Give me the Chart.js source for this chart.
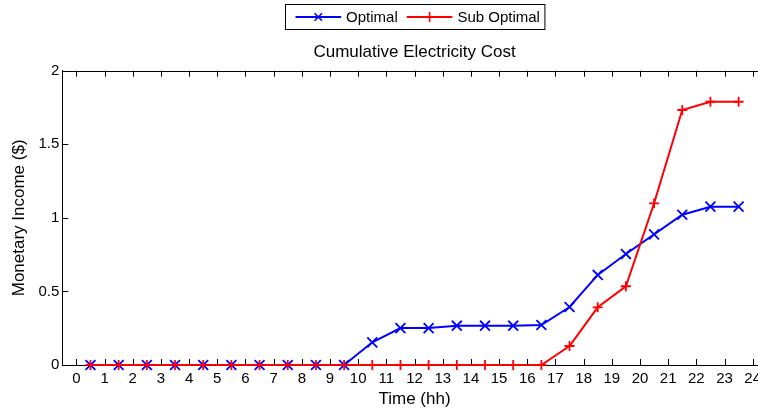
<!DOCTYPE html>
<html>
<head>
<meta charset="utf-8">
<script src="https://cdn.jsdelivr.net/npm/chart.js@4"></script>
<style>
html, body { margin: 0; padding: 0; overflow: hidden; background: #fff; }
canvas { display: block; }
</style>
</head>
<body>
<canvas id="c" width="780" height="413"></canvas>
<script>
// Hour-of-day sample points (middle of each hour)
const hours = [0.5, 1.5, 2.5, 3.5, 4.5, 5.5, 6.5, 7.5, 8.5, 9.5, 10.5, 11.5,
               12.5, 13.5, 14.5, 15.5, 16.5, 17.5, 18.5, 19.5, 20.5, 21.5, 22.5, 23.5];

// Cumulative cost, optimal schedule ($)
const optimal = [0, 0, 0, 0, 0, 0, 0, 0, 0, 0, 0.154, 0.251,
                 0.251, 0.267, 0.267, 0.267, 0.272, 0.394, 0.612, 0.754, 0.888, 1.021, 1.076, 1.076];

// Cumulative cost, sub-optimal schedule ($)
const subOptimal = [0, 0, 0, 0, 0, 0, 0, 0, 0, 0, 0, 0,
                    0, 0, 0, 0, 0, 0.129, 0.392, 0.535, 1.099, 1.733, 1.789, 1.789];

// Axis tick values
const xTickValues = [0, 1, 2, 3, 4, 5, 6, 7, 8, 9, 10, 11, 12, 13, 14, 15, 16, 17, 18, 19, 20, 21, 22, 23, 24];
const yTickValues = [0, 0.5, 1, 1.5, 2];

const FONT = '"Liberation Sans", Arial, Helvetica, sans-serif';

// Box-style axes: top border plus inward tick marks, and a boxed legend
const boxAxes = {
  id: 'boxAxes',
  afterDatasetsDraw(chart) {
    const { ctx, chartArea: a, scales } = chart;
    const len = 6;
    ctx.save();
    ctx.strokeStyle = '#000';
    ctx.lineWidth = 1;
    ctx.beginPath();
    const top = Math.round(a.top) + 0.5;
    ctx.moveTo(a.left, top);
    ctx.lineTo(a.right + 20, top);
    xTickValues.forEach(v => {
      const px = Math.round(scales.x.getPixelForValue(v)) + 0.5;
      ctx.moveTo(px, a.bottom);
      ctx.lineTo(px, a.bottom - len);
      ctx.moveTo(px, a.top);
      ctx.lineTo(px, a.top + len);
    });
    yTickValues.forEach(v => {
      const py = Math.round(scales.y.getPixelForValue(v)) + 0.5;
      ctx.moveTo(a.left, py);
      ctx.lineTo(a.left + len, py);
    });
    ctx.stroke();
    ctx.restore();
  },
  afterDraw(chart) {
    const { ctx, chartArea: a } = chart;
    const cx = (a.left + a.right) / 2;
    ctx.save();
    ctx.font = '15px ' + FONT;
    const items = chart.data.datasets.map(ds => ({
      label: ds.label, color: ds.borderColor, style: ds.pointStyle,
      w: ctx.measureText(ds.label).width
    }));
    const padL = 10, lineLen = 45.6, gapText = 5, gapItem = 9, padR = 5;
    let total = padL + padR;
    items.forEach((it, i) => { total += lineLen + gapText + it.w + (i ? gapItem : 0); });
    const boxTop = 4.5, boxH = 25;
    const left = Math.round(cx - total / 2) + 0.5;
    const cy = boxTop + boxH / 2;
    ctx.fillStyle = '#fff';
    ctx.fillRect(left, boxTop, total, boxH);
    ctx.strokeStyle = '#000';
    ctx.lineWidth = 1;
    ctx.strokeRect(left, boxTop, total, boxH);
    let x = left + padL;
    items.forEach((it, i) => {
      if (i) x += gapItem;
      ctx.strokeStyle = it.color;
      ctx.lineWidth = 2;
      ctx.beginPath();
      ctx.moveTo(x, cy);
      ctx.lineTo(x + lineLen, cy);
      ctx.stroke();
      const mx = x + lineLen / 2, r = 5;
      ctx.lineWidth = 1.6;
      ctx.beginPath();
      if (it.style === 'crossRot') {
        const d = r * 0.75;
        ctx.moveTo(mx - d, cy - d); ctx.lineTo(mx + d, cy + d);
        ctx.moveTo(mx - d, cy + d); ctx.lineTo(mx + d, cy - d);
      } else {
        ctx.moveTo(mx - r, cy); ctx.lineTo(mx + r, cy);
        ctx.moveTo(mx, cy - r); ctx.lineTo(mx, cy + r);
      }
      ctx.stroke();
      x += lineLen + gapText;
      ctx.fillStyle = '#000';
      ctx.textBaseline = 'middle';
      ctx.textAlign = 'left';
      ctx.fillText(it.label, x, cy + 0.5);
      x += it.w;
    });
    ctx.restore();
  }
};

new Chart(document.getElementById('c'), {
  type: 'line',
  data: {
    datasets: [
      {
        label: 'Optimal',
        data: hours.map((h, i) => ({ x: h, y: optimal[i] })),
        borderColor: '#0000ff',
        backgroundColor: '#0000ff',
        borderWidth: 2,
        pointStyle: 'crossRot',
        pointRadius: 7,
        pointBorderWidth: 1.8,
        pointBorderColor: '#0000ff',
        tension: 0,
        clip: false,
        order: 2
      },
      {
        label: 'Sub Optimal',
        data: hours.map((h, i) => ({ x: h, y: subOptimal[i] })),
        borderColor: '#ff0000',
        backgroundColor: '#ff0000',
        borderWidth: 2,
        pointStyle: 'cross',
        pointRadius: 5,
        pointBorderWidth: 1.8,
        pointBorderColor: '#ff0000',
        tension: 0,
        clip: false,
        order: 1
      }
    ]
  },
  options: {
    responsive: false,
    animation: false,
    devicePixelRatio: 1,
    layout: { padding: { left: 0, right: 13.2, top: 0, bottom: 0 } },
    plugins: {
      legend: { display: false },
      tooltip: { enabled: false },
      title: {
        display: true,
        text: 'Cumulative Electricity Cost',
        fullSize: false,
        color: '#000',
        font: { family: FONT, size: 17, weight: 'normal' },
        padding: { top: 42.1, bottom: 8.2 }
      }
    },
    scales: {
      x: {
        type: 'linear',
        min: -0.5,
        max: 24.5,
        afterBuildTicks: s => { s.ticks = xTickValues.map(v => ({ value: v })); },
        afterFit: s => { s.height = 48; },
        grid: { display: false, drawTicks: false },
        border: { display: true, color: '#000', width: 1 },
        ticks: {
          color: '#000', padding: 5.3, maxRotation: 0, autoSkip: false,
          font: { family: FONT, size: 15 },
          callback: v => String(v)
        },
        title: {
          display: true, text: 'Time (hh)', color: '#000',
          font: { family: FONT, size: 17 },
          padding: { top: 0, bottom: 3.5 }
        }
      },
      y: {
        min: 0,
        max: 2,
        afterBuildTicks: s => { s.ticks = yTickValues.map(v => ({ value: v })); },
        afterFit: s => { s.width = 62.3; },
        grid: { display: false, drawTicks: false },
        border: { display: true, color: '#000', width: 1 },
        ticks: {
          color: '#000', padding: 3,
          font: { family: FONT, size: 15 },
          callback: v => String(v)
        },
        title: {
          display: true, text: 'Monetary Income ($)', color: '#000',
          font: { family: FONT, size: 17 },
          padding: { top: 8.8, bottom: 0 }
        }
      }
    }
  },
  plugins: [boxAxes]
});
</script>
</body>
</html>
